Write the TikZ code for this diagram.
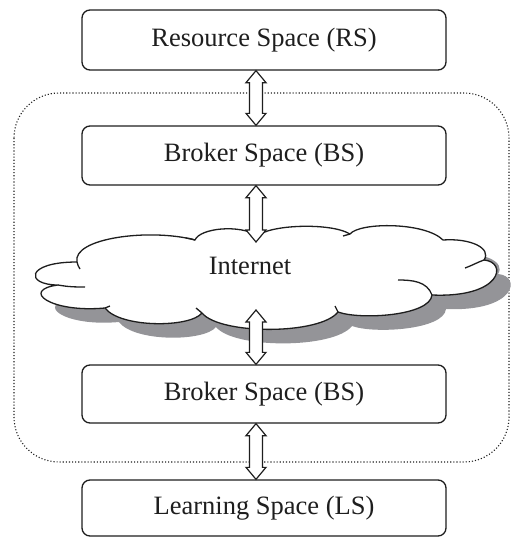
\documentclass[tikz,border=0pt]{standalone}
\usepackage{fontspec}
\setmainfont{Liberation Serif}
\usetikzlibrary{calc}
\definecolor{ink}{RGB}{30,30,30}
\definecolor{shadowgray}{RGB}{148,148,152}
\tikzset{
  spacebox/.style={draw=ink, line width=1.3pt, rounded corners=8pt, fill=white,
    minimum width=364pt, inner sep=0pt, font=\fontsize{26.5}{30}\selectfont, text=ink},
  cloudline/.style={draw=ink, line width=1.3pt, line join=round},
  hollowarrow/.style={draw=ink, line width=1.2pt, fill=white, line join=miter},
  frame/.style={draw=ink, dotted, line width=1.1pt, rounded corners=45pt}
}
\newcommand{\dblarrow}[2]{%
  \draw[hollowarrow] (#1) -- ($(#1)+(-10,-12)$) -- ($(#1)+(-6.5,-12)$) -- ($(#2)+(-6.5,12)$)
    -- ($(#2)+(-10,12)$) -- (#2) -- ($(#2)+(10,12)$) -- ($(#2)+(6.5,12)$)
    -- ($(#1)+(6.5,-12)$) -- ($(#1)+(10,-12)$) -- cycle;}
\def\cloudpath{(77,-262)
  .. controls (72,-238) and (150,-228) .. (195,-240)
  .. controls (200,-228) and (240,-224) .. (258,-236)
  .. controls (268,-225) and (330,-222) .. (350,-234)
  .. controls (360,-222) and (425,-222) .. (443,-240)
  .. controls (470,-238) and (492,-248) .. (484,-260)
  .. controls (508,-262) and (502,-298) .. (432,-295)
  .. controls (430,-316) and (360,-320) .. (338,-312)
  .. controls (320,-335) and (220,-335) .. (202,-313)
  .. controls (190,-328) and (120,-328) .. (105,-308)
  .. controls (50,-313) and (20,-290) .. (58,-285)
  .. controls (25,-285) and (25,-262) .. (77,-262) -- cycle}
\begin{document}
\begin{tikzpicture}[x=1pt,y=1pt]
\useasboundingbox (0,0) rectangle (511,-538);
% frame
\draw[frame] (14,-93) rectangle (509,-462);
% boxes
\node[spacebox, minimum height=60pt] (rs) at (264,-40) {Resource Space (RS)};
\node[spacebox, minimum height=59pt] (bs1) at (264,-155.5) {Broker Space (BS)};
\node[spacebox, minimum height=58pt] (bs2) at (264,-394) {Broker Space (BS)};
\node[spacebox, minimum height=56pt] (ls) at (264,-508) {Learning Space (LS)};
% cloud
\fill[shadowgray, shift={(14,-14)}] \cloudpath;
\filldraw[cloudline, fill=white] \cloudpath;
% inner strokes of the cloud
\draw[cloudline] (77,-262) to[out=-80,in=120] (80,-269);
\draw[cloudline] (58,-285) to[out=-10,in=180] (85,-287);
\draw[cloudline] (105,-308) to[out=20,in=200] (110,-306);
\draw[cloudline] (202,-313) to[out=140,in=-40] (196,-308);
\draw[cloudline] (338,-312) to[out=110,in=-60] (335,-306);
\draw[cloudline] (432,-295) to[out=110,in=0] (398,-280);
\draw[cloudline] (484,-260) to[out=-160,in=20] (465,-268);
\draw[cloudline] (195,-240) to[out=160,in=-10] (186,-238);
\draw[cloudline] (350,-234) to[out=-170,in=20] (343,-236);
\node[font=\fontsize{26.5}{30}\selectfont, text=ink] (net) at (250,-266) {Internet};
\coordinate (cloudtop) at (256,-242);
\coordinate (cloudbot) at (256,-310);
\coordinate (ax) at (256,0);
% arrows
\dblarrow{ax |- rs.south}{ax |- bs1.north}
\dblarrow{ax |- bs1.south}{cloudtop}
\dblarrow{cloudbot}{ax |- bs2.north}
\dblarrow{ax |- bs2.south}{ax |- ls.north}
\end{tikzpicture}
\end{document}
